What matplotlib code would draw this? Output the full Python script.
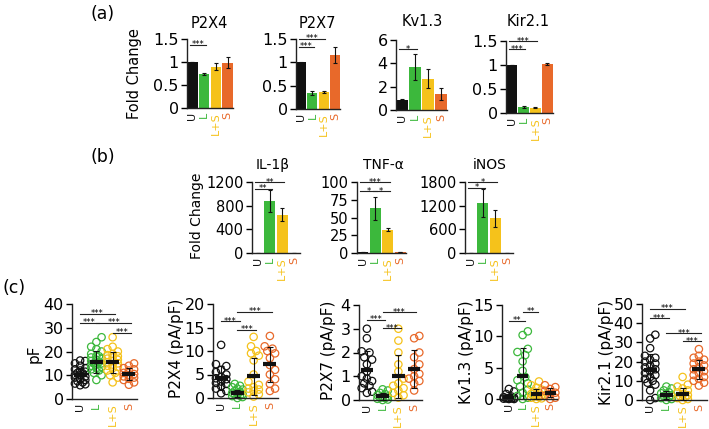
import matplotlib
matplotlib.use("Agg")
import matplotlib.pyplot as plt
import numpy as np

plt.rcParams.update({
    "font.family": ["DejaVu Sans"],
    "font.size": 11,
    "axes.linewidth": 1.0,
    "axes.edgecolor": "#222222",
    "ytick.major.size": 4,
    "ytick.major.width": 1.0,
    "ytick.major.pad": 2,
    "xtick.major.size": 0,
    "xtick.major.pad": 3,
    "xtick.labelsize": 8,
})

groups = ["U", "L", "L+S", "S"]
colors = ["#111111", "#3cb83c", "#f5c21b", "#e8692a"]

# ---- panel (a): qPCR channel fold change (mean, error) ----
p2x4_a = [1.0, 0.74, 0.90, 0.98]
p2x4_a_err = [0.01, 0.02, 0.08, 0.12]
p2x7_a = [1.0, 0.35, 0.36, 1.16]
p2x7_a_err = [0.01, 0.04, 0.02, 0.17]
kv13_a = [0.9, 3.7, 2.7, 1.4]
kv13_a_err = [0.05, 1.1, 0.8, 0.5]
kir21_a = [1.0, 0.12, 0.11, 1.02]
kir21_a_err = [0.01, 0.02, 0.01, 0.02]

# ---- panel (b): cytokines fold change ----
il1b_b = [1, 880, 650, 1]
il1b_b_err = [0, 180, 110, 0]
tnfa_b = [1, 63, 33, 1]
tnfa_b_err = [0, 16, 2, 0]
inos_b = [1, 1270, 880, 1]
inos_b_err = [0, 350, 210, 0]

# ---- panel (c): single-cell values per group ----
pf_pts = [
    [5.8, 6.2, 6.5, 7.0, 7.5, 8.0, 8.5, 9.0, 9.5, 10.0, 10.2, 10.8, 11.0, 11.5, 12.0, 12.5, 13.0, 14.0, 15.0, 16.0, 16.2],
    [8, 10, 11, 12, 12.5, 13, 13.5, 14, 14.5, 15, 15, 15.5, 16, 16.5, 17, 17.5, 18, 18, 19, 20, 21, 22, 24, 26],
    [7, 9, 10, 11, 12, 13, 13.5, 14, 14.5, 15, 15.5, 16, 16.5, 17, 17.5, 18, 18.5, 19, 20, 21, 22, 26],
    [6, 7, 8, 8.5, 9, 9.5, 10, 10.5, 11, 12, 12.5, 13, 14, 15],
]
pf_mean = [10.2, 15.6, 15.4, 10.5]
pf_sd = [3.0, 4.5, 4.3, 2.5]

p2x4_pts = [
    [1.0, 1.5, 2.0, 2.5, 3.0, 3.2, 3.5, 4.0, 4.2, 4.5, 5.0, 5.5, 6.0, 6.8, 7.2, 11.3],
    [0.0, 0.2, 0.4, 0.5, 0.7, 0.8, 1.0, 1.1, 1.3, 1.5, 1.8, 2.0, 2.3, 2.6, 3.0],
    [0.3, 0.8, 1.2, 1.5, 1.8, 2.0, 2.3, 2.8, 3.5, 5.0, 8.0, 9.0, 9.5, 10.0, 11.0, 13.0],
    [1.5, 2.0, 3.0, 4.0, 5.0, 6.0, 7.0, 8.5, 9.5, 10.0, 10.5, 11.0, 13.2],
]
p2x4_mean = [4.2, 1.0, 4.6, 7.2]
p2x4_sd = [2.6, 0.8, 4.0, 3.7]

p2x7_pts = [
    [0.3, 0.35, 0.5, 0.6, 0.7, 0.8, 0.9, 1.0, 1.2, 1.5, 1.7, 1.8, 2.0, 2.05, 2.6, 3.0],
    [0.0, 0.02, 0.05, 0.08, 0.1, 0.12, 0.15, 0.2, 0.25, 0.3, 0.4, 0.45],
    [0.1, 0.2, 0.3, 0.4, 0.5, 0.6, 0.7, 0.9, 1.2, 1.5, 2.0, 2.5, 3.0],
    [0.4, 0.7, 0.8, 0.9, 1.0, 1.1, 1.3, 1.5, 1.8, 2.0, 2.6, 2.7],
]
p2x7_mean = [1.25, 0.15, 1.0, 1.32]
p2x7_sd = [0.8, 0.15, 0.9, 0.8]

kv13_pts = [
    [0.0, 0.0, 0.05, 0.1, 0.1, 0.15, 0.2, 0.3, 0.4, 0.8, 1.2, 1.6],
    [0.0, 0.2, 0.5, 1.0, 1.5, 2.0, 2.5, 3.0, 3.5, 4.5, 6.0, 7.0, 7.5, 8.0, 10.2, 10.8],
    [0.0, 0.1, 0.2, 0.3, 0.4, 0.5, 0.6, 0.8, 1.0, 1.2, 1.5, 1.8, 2.2, 2.8],
    [0.0, 0.2, 0.5, 0.8, 1.0, 1.3, 1.6, 1.9, 2.2],
]
kv13_mean = [0.2, 3.6, 0.8, 1.0]
kv13_sd = [0.4, 4.6, 0.8, 0.7]

kir21_pts = [
    [0, 1, 5, 8, 9, 10, 11, 12, 13, 14, 15, 16, 17, 18, 19, 20, 21, 22, 23, 27, 32, 34],
    [0, 0.5, 1, 1.5, 2, 2.5, 3, 3.5, 4, 5, 6, 7],
    [0, 0.5, 1, 1.5, 2, 2.5, 3, 4, 5, 6, 7, 8, 12],
    [7.5, 9, 10, 11, 12, 13, 14, 15, 16, 17, 18, 19, 20, 21, 22, 23, 26.5],
]
kir21_mean = [15.5, 2.5, 3.0, 16.0]
kir21_sd = [8.5, 2.0, 3.0, 5.0]

W, H = 709, 429
fig = plt.figure(figsize=(W / 100, H / 100), dpi=100)


def px_text(x, y, s, **kw):
    """text placed at pixel coords (from top-left)"""
    return fig.text(x / W, 1 - y / H, s, ha="center", va="center", **kw)


def make_ax(left, top, right, bottom):
    """axes from pixel box (top = y of ymax, bottom = y of 0)"""
    return fig.add_axes([left / W, 1 - bottom / H, (right - left) / W, (bottom - top) / H])


def style_ax(ax, ymax, yticks, ylabels, ysize):
    ax.set_xlim(-0.5, 3.5)
    ax.set_ylim(0, ymax)
    ax.set_yticks(yticks)
    ax.set_yticklabels(ylabels, fontsize=ysize)
    ax.set_xticks(range(4))
    ax.set_xticklabels(groups, rotation=90)
    for lbl, c in zip(ax.get_xticklabels(), colors):
        lbl.set_color(c)
    for s in ["top", "right"]:
        ax.spines[s].set_visible(False)
    ax.patch.set_alpha(0)


def add_sigs(ax, sigs, x0, x1):
    for i, j, y, txt in sigs:
        ax.plot([i + x0, j + x1], [y, y], color="#222222", lw=0.8, clip_on=False)
        ax.annotate(txt, xy=((i + x0 + j + x1) / 2, y), xytext=(0, -1.8),
                    textcoords="offset points", ha="center", va="baseline",
                    fontsize=6, annotation_clip=False)


def bar_panel(box, title, tpos, means, errs, ymax, yticks, ylabels, sigs,
              ysize=11.5, tsize=10.5):
    ax = make_ax(*box)
    x = np.arange(4)
    ax.bar(x, means, width=0.88, color=colors)
    ax.errorbar(x, means, yerr=errs, fmt="none", ecolor="#111111",
                elinewidth=0.8, capsize=1.5, capthick=0.8)
    style_ax(ax, ymax, yticks, ylabels, ysize)
    ax.set_xlim(-0.46, 3.46)
    px_text(tpos[0], tpos[1], title, fontsize=tsize)
    add_sigs(ax, sigs, -0.2, 0.15)
    return ax


def swarm_x(vals, px_per_unit, step_px, d=6.5, dx=2.6):
    """simple beeswarm: returns x offsets in group units"""
    order = np.argsort(vals)
    placed = []
    offs = np.zeros(len(vals))
    cands = [0, 1, -1, 2, -2]
    for idx in order:
        y = vals[idx] * px_per_unit
        best, best_gap = 0, -1.0
        for k in cands:
            x = k * dx
            gap = min([np.hypot(x - px, y - py) for px, py in placed] + [99.0])
            if gap >= d:
                best = k
                break
            if gap > best_gap:
                best, best_gap = k, gap
        x = best * dx
        placed.append((x, y))
        offs[idx] = x / step_px
    return offs


def dot_panel(box, pts, means, sds, ymax, yticks, ylabels, sigs, ylabel, lpos):
    ax = make_ax(*box)
    left, top, right, bottom = box
    px_per_unit = (bottom - top) / ymax
    step = (right - left) / 4.0
    for g, vals in enumerate(pts):
        vals = np.array(vals, dtype=float)
        offs = swarm_x(vals, px_per_unit, step)
        ax.scatter(g + offs, vals, s=28, facecolors="none", edgecolors=colors[g],
                   linewidths=0.9, clip_on=False, zorder=2)
    x = np.arange(4)
    ax.errorbar(x, means, yerr=sds, fmt="none", ecolor="#111111",
                elinewidth=0.8, capsize=2, capthick=0.8, zorder=3)
    ax.hlines(means, x - 0.4, x + 0.4, colors="#111111", lw=3, zorder=4)
    style_ax(ax, ymax, yticks, ylabels, 11.5)
    px_text(lpos[0], lpos[1], ylabel, fontsize=11, rotation=90)
    add_sigs(ax, sigs, 0.0, 0.15)
    return ax


# panel (a)
bar_panel((187, 39, 233, 108), "P2X4", (209, 24), p2x4_a, p2x4_a_err, 1.5,
          [0, 0.5, 1, 1.5], ["0", "0.5", "1", "1.5"],
          [(0, 1, 1.37, "***")])
bar_panel((296, 39, 340, 109), "P2X7", (317, 24), p2x7_a, p2x7_a_err, 1.5,
          [0, 0.5, 1, 1.5], ["0", "0.5", "1", "1.5"],
          [(0, 1, 1.33, "***"), (0, 2, 1.5, "***")])
bar_panel((396, 40, 447, 110), "Kv1.3", (422, 22), kv13_a, kv13_a_err, 6,
          [0, 2, 4, 6], ["0", "2", "4", "6"],
          [(0, 1, 5.2, "*")])
bar_panel((506, 41, 553, 113), "Kir2.1", (528, 22), kir21_a, kir21_a_err, 1.5,
          [0, 0.5, 1, 1.5], ["0", "0.5", "1", "1.5"],
          [(0, 1, 1.33, "***"), (0, 2, 1.5, "***")])
px_text(135, 74, "Fold Change", fontsize=10.5, rotation=90)

# panel (b)
bar_panel((252, 182, 300, 253), "IL-1β", (273, 165), il1b_b, il1b_b_err, 1200,
          [0, 400, 800, 1200], ["0", "400", "800", "1200"],
          [(0, 1, 1090, "**"), (0, 2, 1200, "**")], ysize=10.5, tsize=10)
bar_panel((357, 182, 406, 253), "TNF-α", (383, 165), tnfa_b, tnfa_b_err, 100,
          [0, 25, 50, 75, 100], ["0", "25", "50", "75", "100"],
          [(0, 1, 87, "*"), (1, 2, 87, "*"), (0, 2, 100, "***")], ysize=10.5, tsize=10)
bar_panel((465, 182, 513, 253), "iNOS", (490, 165), inos_b, inos_b_err, 1800,
          [0, 600, 1200, 1800], ["0", "600", "1200", "1800"],
          [(0, 1, 1650, "*"), (0, 2, 1800, "*")], ysize=10.5, tsize=10)
px_text(197, 216, "Fold Change", fontsize=10, rotation=90)

# panel (c)
dot_panel((72, 304, 137, 399), pf_pts, pf_mean, pf_sd, 40,
          [0, 10, 20, 30, 40], ["0", "10", "20", "30", "40"],
          [(0, 2, 35.8, "***"), (0, 1, 32, "***"), (1, 3, 32, "***"), (2, 3, 28, "***")],
          "pF", (34, 354))
dot_panel((213, 304, 278, 398), p2x4_pts, p2x4_mean, p2x4_sd, 20,
          [0, 5, 10, 15, 20], ["0", "5", "10", "15", "20"],
          [(1, 3, 18.4, "***"), (0, 1, 16.3, "***"), (1, 2, 14.5, "***")],
          "P2X4 (pA/pF)", (176, 348))
dot_panel((359, 305, 422, 400), p2x7_pts, p2x7_mean, p2x7_sd, 4,
          [0, 1, 2, 3, 4], ["0", "1", "2", "3", "4"],
          [(1, 3, 3.69, "***"), (0, 1, 3.37, "***"), (1, 2, 3.02, "***")],
          "P2X7 (pA/pF)", (328, 350))
dot_panel((502, 305, 557, 399), kv13_pts, kv13_mean, kv13_sd, 15,
          [0, 5, 10, 15], ["0", "5", "10", "15"],
          [(0, 1, 12.5, "**"), (1, 2, 13.9, "**")],
          "Kv1.3 (pA/pF)", (466, 352))
dot_panel((642, 304, 707, 400), kir21_pts, kir21_mean, kir21_sd, 50,
          [0, 10, 20, 30, 40, 50], ["0", "10", "20", "30", "40", "50"],
          [(0, 2, 47.4, "***"), (0, 1, 42.7, "***"), (1, 3, 34.8, "***"), (2, 3, 30.5, "***")],
          "Kir2.1 (pA/pF)", (607, 352))

# panel letters
px_text(103, 14, "(a)", fontsize=12.5)
px_text(103, 157, "(b)", fontsize=12.5)
px_text(14, 288, "(c)", fontsize=12.5)

fig.savefig("out.png", dpi=100)
